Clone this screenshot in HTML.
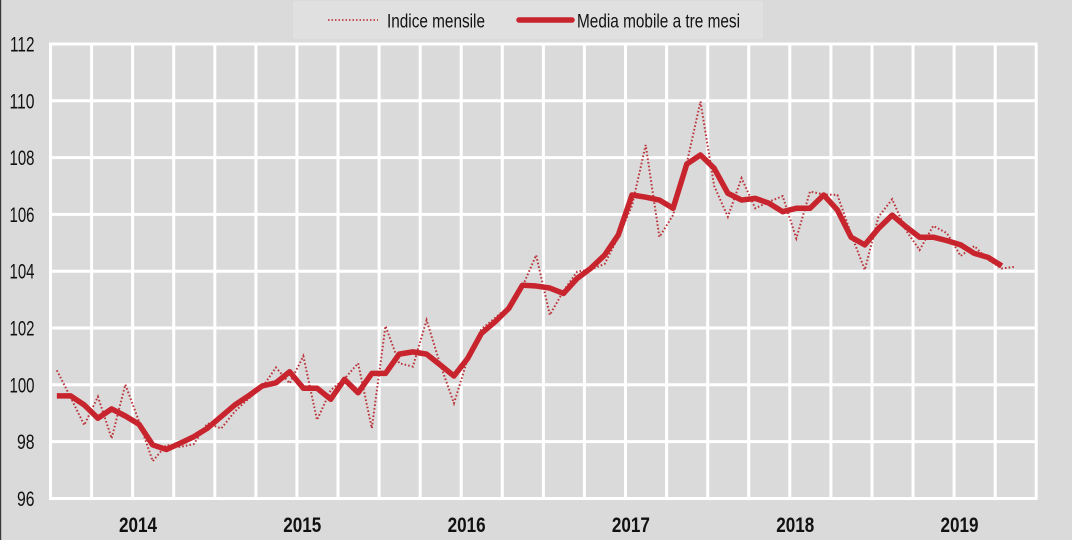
<!DOCTYPE html>
<html><head><meta charset="utf-8"><style>
html,body{margin:0;padding:0;background:#dadada;}
svg{display:block;}
text{font-family:"Liberation Sans",Arial,sans-serif;fill:#111;}
</style></head><body>
<svg width="1072" height="540" viewBox="0 0 1072 540" xmlns="http://www.w3.org/2000/svg">
<rect x="0" y="0" width="1072" height="540" fill="#dadada"/>
<rect x="0" y="0" width="1.2" height="540" fill="#3a3a3a"/>
<!-- legend -->
<rect x="293" y="1" width="470" height="38" fill="#e0e0e0"/>
<line x1="328" y1="20" x2="378" y2="20" stroke="#c0393f" stroke-width="1.8" stroke-dasharray="1.5 2"/>
<text x="387" y="27.5" font-size="19.5" textLength="98" lengthAdjust="spacingAndGlyphs">Indice mensile</text>
<line x1="519" y1="20" x2="572" y2="20" stroke="#c8242d" stroke-width="5.5" stroke-linecap="round"/>
<text x="577" y="27.5" font-size="19.5" textLength="163" lengthAdjust="spacingAndGlyphs">Media mobile a tre mesi</text>
<!-- grid -->
<g stroke="#ffffff" stroke-width="3">
<line x1="49" y1="44" x2="1037.5" y2="44"/>
<line x1="49" y1="100.8" x2="1037.5" y2="100.8"/>
<line x1="49" y1="157.6" x2="1037.5" y2="157.6"/>
<line x1="49" y1="214.4" x2="1037.5" y2="214.4"/>
<line x1="49" y1="271.2" x2="1037.5" y2="271.2"/>
<line x1="49" y1="328" x2="1037.5" y2="328"/>
<line x1="49" y1="384.8" x2="1037.5" y2="384.8"/>
<line x1="49" y1="441.6" x2="1037.5" y2="441.6"/>
<line x1="49" y1="498.5" x2="1037.5" y2="498.5"/>
<line x1="50.5" y1="44" x2="50.5" y2="498.5"/>
<line x1="91.6" y1="44" x2="91.6" y2="498.5"/>
<line x1="132.6" y1="44" x2="132.6" y2="498.5"/>
<line x1="173.7" y1="44" x2="173.7" y2="498.5"/>
<line x1="214.8" y1="44" x2="214.8" y2="498.5"/>
<line x1="255.9" y1="44" x2="255.9" y2="498.5"/>
<line x1="296.9" y1="44" x2="296.9" y2="498.5"/>
<line x1="338.0" y1="44" x2="338.0" y2="498.5"/>
<line x1="379.1" y1="44" x2="379.1" y2="498.5"/>
<line x1="420.2" y1="44" x2="420.2" y2="498.5"/>
<line x1="461.2" y1="44" x2="461.2" y2="498.5"/>
<line x1="502.3" y1="44" x2="502.3" y2="498.5"/>
<line x1="543.4" y1="44" x2="543.4" y2="498.5"/>
<line x1="584.4" y1="44" x2="584.4" y2="498.5"/>
<line x1="625.5" y1="44" x2="625.5" y2="498.5"/>
<line x1="666.6" y1="44" x2="666.6" y2="498.5"/>
<line x1="707.7" y1="44" x2="707.7" y2="498.5"/>
<line x1="748.7" y1="44" x2="748.7" y2="498.5"/>
<line x1="789.8" y1="44" x2="789.8" y2="498.5"/>
<line x1="830.9" y1="44" x2="830.9" y2="498.5"/>
<line x1="872.0" y1="44" x2="872.0" y2="498.5"/>
<line x1="913.0" y1="44" x2="913.0" y2="498.5"/>
<line x1="954.1" y1="44" x2="954.1" y2="498.5"/>
<line x1="995.2" y1="44" x2="995.2" y2="498.5"/>
<line x1="1036.2" y1="44" x2="1036.2" y2="498.5"/>
</g>
<!-- y labels -->
<g font-size="21" text-anchor="end">
<text x="34.5" y="51.5" textLength="24.5" lengthAdjust="spacingAndGlyphs">112</text>
<text x="34.5" y="108.3" textLength="25" lengthAdjust="spacingAndGlyphs">110</text>
<text x="34.5" y="165.1" textLength="25" lengthAdjust="spacingAndGlyphs">108</text>
<text x="34.5" y="221.9" textLength="25" lengthAdjust="spacingAndGlyphs">106</text>
<text x="34.5" y="278.7" textLength="25" lengthAdjust="spacingAndGlyphs">104</text>
<text x="34.5" y="335.5" textLength="25" lengthAdjust="spacingAndGlyphs">102</text>
<text x="34.5" y="392.3" textLength="25" lengthAdjust="spacingAndGlyphs">100</text>
<text x="34.5" y="449.1" textLength="17.5" lengthAdjust="spacingAndGlyphs">98</text>
<text x="34.5" y="506" textLength="17.5" lengthAdjust="spacingAndGlyphs">96</text>
</g>
<!-- x labels -->
<g font-size="21" font-weight="bold" text-anchor="middle">
<text x="138" y="532" textLength="38" lengthAdjust="spacingAndGlyphs">2014</text>
<text x="302.3" y="532" textLength="38" lengthAdjust="spacingAndGlyphs">2015</text>
<text x="466.6" y="532" textLength="38" lengthAdjust="spacingAndGlyphs">2016</text>
<text x="630.9" y="532" textLength="38" lengthAdjust="spacingAndGlyphs">2017</text>
<text x="795.2" y="532" textLength="38" lengthAdjust="spacingAndGlyphs">2018</text>
<text x="959.5" y="532" textLength="38" lengthAdjust="spacingAndGlyphs">2019</text>
</g>
<!-- dotted monthly index -->
<polyline fill="none" stroke="#bb343b" stroke-width="2" stroke-dasharray="1.6 2.1" points="
56.85,370.31 70.54,397.27 84.24,425.08 97.93,396.7 111.62,438.41 125.32,384.5 139.01,421.39 152.71,461.11 166.40,444.94 180.09,446.92 193.79,444.09 207.48,423.38 221.18,428.48 234.87,411.46 248.56,398.69 262.26,387.34 275.95,367.47 289.65,383.36 303.34,356.12 317.03,419.97 330.73,390.17 344.42,378.82 358.12,363.22 371.81,428.2 385.50,326.05 399.20,363.22 412.89,366.62 426.59,320.09 440.28,364.64 453.97,403.23 467.67,358.96 481.36,329.23 495.06,317.87 508.75,306.75 522.44,286.61 536.14,255.11 549.83,314.98 563.53,290.86 577.22,271.57 590.91,269.58 604.61,263.91 618.30,236.95 632.00,205.74 645.69,145.0 659.38,236.95 673.08,215.1 686.77,163.17 700.47,101.59 714.16,185.87 727.85,216.8 741.55,178.21 755.24,208.29 768.94,201.76 782.63,196.09 796.32,238.37 810.02,191.55 823.71,194.39 837.41,194.96 851.10,234.11 864.79,269.86 878.49,216.8 892.18,199.21 905.88,230.14 919.57,250.0 933.26,225.88 946.96,233.26 960.65,255.96 974.35,246.03 988.04,259.65 1001.73,268.45 1015.43,266.74"/>
<!-- moving average -->
<polyline fill="none" stroke="#c8242d" stroke-width="5.5" stroke-linejoin="round" points="
56.85,395.85 70.54,395.85 84.24,404.93 97.93,418.27 111.62,408.92 125.32,416.0 139.01,424.22 152.71,444.94 166.40,449.48 180.09,443.24 193.79,436.71 207.48,428.2 221.18,416.56 234.87,404.93 248.56,395.85 262.26,385.92 275.95,382.8 289.65,371.73 303.34,388.19 317.03,388.19 330.73,399.25 344.42,379.39 358.12,392.73 371.81,373.43 385.50,373.43 399.20,354.14 412.89,351.87 426.59,354.14 440.28,364.92 453.97,375.99 467.67,358.39 481.36,333.42 495.06,321.79 508.75,308.45 522.44,285.19 536.14,286.04 549.83,288.02 563.53,293.42 577.22,278.38 590.91,268.16 604.61,255.11 618.30,234.96 632.00,194.96 645.69,197.22 659.38,200.06 673.08,208.29 686.77,164.03 700.47,154.95 714.16,168.28 727.85,193.25 741.55,200.06 755.24,198.36 768.94,203.18 782.63,211.7 796.32,208.29 810.02,208.29 823.71,194.96 837.41,209.99 851.10,237.23 864.79,244.89 878.49,228.44 892.18,215.1 905.88,226.73 919.57,237.23 933.26,237.23 946.96,240.64 960.65,244.89 974.35,253.41 988.04,257.38 1001.73,265.89"/>
</svg>
</body></html>
